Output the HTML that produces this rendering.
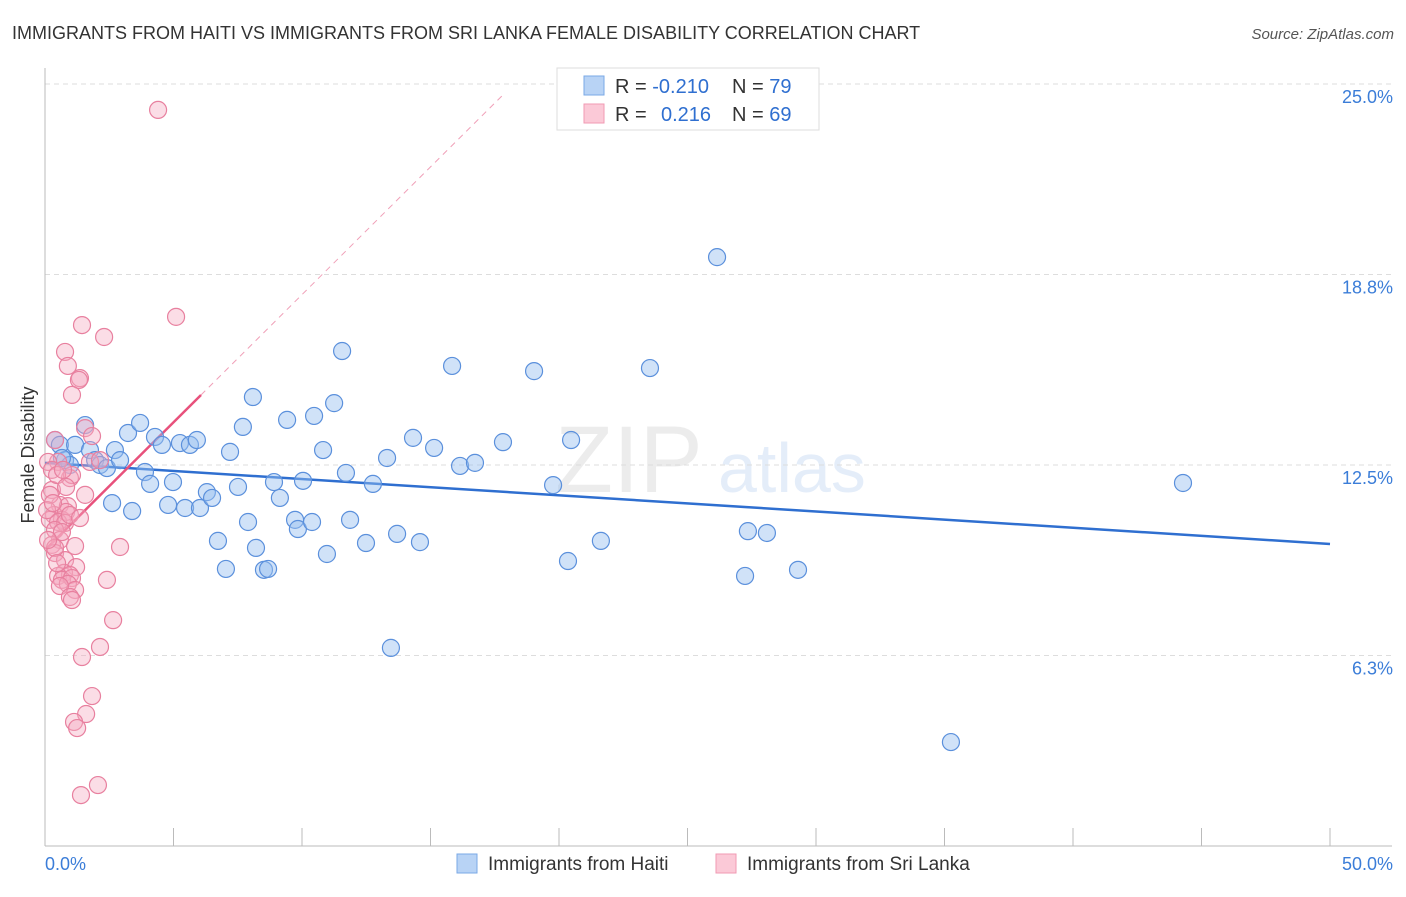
<!DOCTYPE html>
<html><head><meta charset="utf-8"><style>
body{margin:0;background:#fff;font-family:"Liberation Sans",sans-serif}
svg text{font-family:"Liberation Sans",sans-serif}
</style></head><body>
<svg id="c" width="1406" height="892">
<text x="12" y="39" font-size="18" fill="#333">IMMIGRANTS FROM HAITI VS IMMIGRANTS FROM SRI LANKA FEMALE DISABILITY CORRELATION CHART</text>
<text x="1394" y="39" font-size="15" fill="#555" font-style="italic" text-anchor="end">Source: ZipAtlas.com</text>
<g opacity="0.13">
<text x="555" y="492" font-size="95" font-family="Liberation Serif" fill="#777">ZIP</text>
<text x="718" y="492" font-size="70" fill="#3b7dd8">atlas</text></g>
<g id="grid"></g><g id="axes"></g><g id="trend"></g><g id="pts"></g>
<text transform="translate(34,455) rotate(-90)" font-size="18" fill="#333" text-anchor="middle">Female Disability</text>
<g>
<rect x="557" y="68" width="262" height="62" fill="#fff" stroke="#ddd"/>
<rect x="584" y="76" width="20" height="19" fill="#b8d3f5" stroke="#7aa8e6"/>
<rect x="584" y="104" width="20" height="19" fill="#fbc9d7" stroke="#f09ab3"/>
<text x="615" y="93" font-size="20" fill="#333">R = <tspan fill="#2f6fd0">-0.210</tspan><tspan x="732">N = </tspan><tspan fill="#2f6fd0">79</tspan></text>
<text x="615" y="121" font-size="20" fill="#333">R = <tspan x="661" fill="#2f6fd0">0.216</tspan><tspan x="732">N = </tspan><tspan fill="#2f6fd0">69</tspan></text>
</g>
<g>
<rect x="457" y="854" width="20" height="19" fill="#b8d3f5" stroke="#7aa8e6"/>
<text x="488" y="870" font-size="19" fill="#333">Immigrants from Haiti</text>
<rect x="716" y="854" width="20" height="19" fill="#fbc9d7" stroke="#f09ab3"/>
<text x="747" y="870" font-size="19" fill="#333">Immigrants from Sri Lanka</text>
</g>
</svg>
<script>
const haitiX=[0.39,0.58,0.78,1.17,0.97,1.56,1.75,1.95,2.14,2.41,2.72,2.92,2.61,3.23,3.39,3.70,3.89,4.09,4.28,4.55,4.79,4.98,5.25,5.45,5.64,5.91,6.03,6.30,6.50,6.73,7.04,7.20,7.51,7.70,7.90,8.09,8.21,8.52,8.68,8.91,9.14,9.42,9.73,9.84,10.04,10.39,10.47,10.82,10.97,11.25,11.56,11.71,11.87,12.49,12.76,13.31,13.46,13.70,14.32,14.59,15.14,15.84,16.15,16.73,17.82,19.03,19.77,20.35,20.47,21.63,23.54,26.15,27.24,27.35,28.09,29.30,35.25,44.28,0.66];
const haitiY=[13.32,13.16,12.66,13.16,12.50,13.81,12.99,12.66,12.50,12.40,12.99,12.66,11.25,13.55,10.99,13.88,12.27,11.88,13.42,13.16,11.19,11.94,13.22,11.09,13.16,13.32,11.09,11.61,11.42,10.01,9.09,12.93,11.78,13.75,10.63,14.73,9.78,9.06,9.09,11.94,11.42,13.98,10.70,10.40,11.98,10.63,14.11,12.99,9.58,14.53,16.24,12.24,10.70,9.94,11.88,12.73,6.50,10.24,13.39,9.97,13.06,15.75,12.47,12.57,13.25,15.58,11.84,9.35,13.32,10.01,15.68,19.32,8.86,10.33,10.27,9.06,3.41,11.91,12.73];
const lankaX=[4.40,1.44,5.10,2.30,0.78,0.89,1.36,1.32,1.05,0.39,1.56,1.83,0.51,1.75,2.14,0.97,1.05,0.27,1.56,0.58,0.89,0.35,0.66,0.82,0.19,0.51,0.78,0.97,0.39,0.58,0.27,1.17,2.92,0.39,0.78,1.21,0.74,0.97,0.51,0.66,1.05,2.41,0.89,1.17,0.58,0.97,2.65,2.14,1.44,1.83,1.60,1.13,1.25,2.06,1.40,0.12,0.19,0.27,0.47,0.70,0.82,0.08,0.39,1.36,0.66,0.47,1.05,0.12,0.31];
const lankaY=[24.15,17.09,17.36,16.70,16.21,15.75,15.35,15.29,14.80,13.32,13.71,13.45,12.60,12.60,12.66,12.07,12.17,11.68,11.52,11.19,11.15,10.86,10.70,10.96,10.70,10.63,10.60,10.86,10.37,10.04,9.88,9.84,9.81,9.61,9.38,9.15,8.96,8.89,8.86,8.73,8.79,8.73,8.60,8.40,8.53,8.17,7.41,6.53,6.20,4.92,4.33,4.07,3.87,2.00,1.67,12.60,11.52,12.34,12.17,12.34,11.78,11.02,9.78,10.76,10.30,9.28,8.07,10.04,11.25];
const yTicks=[25.0,18.8,12.5,6.3];
const yTickLabels=["25.0%","18.8%","12.5%","6.3%"];
const xTickValues=[0,5,10,15,20,25,30,35,40,45,50];
const haitiTrend=[12.57,9.91];      // y at x=0 and x=50
const lankaTrend=[9.71,0.838];      // intercept, slope
const lankaSolidEnd=6.07, lankaDashEnd=17.9;

const NS="http://www.w3.org/2000/svg";
const X=v=>45+v*25.7, Y=v=>846-v*30.48;
function mk(tag,attrs,parent){const e=document.createElementNS(NS,tag);for(const k in attrs)e.setAttribute(k,attrs[k]);document.getElementById(parent).appendChild(e);return e;}
yTicks.forEach((t,i)=>{
  const g=mk('line',{x1:45,x2:1392,y1:Y(t===25?25:t===18.8?18.75:t===12.5?12.5:6.25),y2:Y(t===25?25:t===18.8?18.75:t===12.5?12.5:6.25),stroke:'#ddd','stroke-dasharray':'5,4'},'grid');
  
  
  const yy=Y(t===25?25:t===18.8?18.75:t===12.5?12.5:6.25);
  const l=mk('text',{x:1393,y:yy+19,'font-size':18,fill:'#3b7dd8','text-anchor':'end'},'axes');
  l.textContent=yTickLabels[i];
  
  
});
let a=mk('line',{x1:45,x2:45,y1:68,y2:846,stroke:'#bbb'},'axes');


a=mk('line',{x1:45,x2:1392,y1:846,y2:846,stroke:'#bbb'},'axes');


xTickValues.forEach(v=>{
  const t=mk('line',{x1:X(v),x2:X(v),y1:828,y2:846,stroke:'#bbb'},'axes');
  
  
});
let xl=mk('text',{x:45,y:870,'font-size':18,fill:'#3b7dd8'},'axes');xl.textContent='0.0%';


xl=mk('text',{x:1393,y:870,'font-size':18,fill:'#3b7dd8','text-anchor':'end'},'axes');xl.textContent='50.0%';


haitiX.forEach((x,i)=>{
  const c=mk('circle',{cx:X(x),cy:Y(haitiY[i]),r:8.5,fill:'rgba(150,190,240,0.45)',stroke:'#5b90dc','stroke-width':1.2},'pts');
  
  
});
lankaX.forEach((x,i)=>{
  const c=mk('circle',{cx:X(x),cy:Y(lankaY[i]),r:8.5,fill:'rgba(245,170,192,0.4)',stroke:'#e8809f','stroke-width':1.2},'pts');
  
  
});
let tl=mk('line',{x1:X(0),y1:Y(haitiTrend[0]),x2:X(50),y2:Y(haitiTrend[1]),stroke:'#2f6fd0','stroke-width':2.5},'trend');


tl=mk('line',{x1:X(lankaSolidEnd),y1:Y(lankaTrend[0]+lankaTrend[1]*lankaSolidEnd),x2:X(lankaDashEnd),y2:Y(lankaTrend[0]+lankaTrend[1]*lankaDashEnd),stroke:'#f0a0b8','stroke-width':1,'stroke-dasharray':'6,5'},'trend');


tl=mk('line',{x1:X(0.08),y1:Y(lankaTrend[0]+lankaTrend[1]*0.08),x2:X(lankaSolidEnd),y2:Y(lankaTrend[0]+lankaTrend[1]*lankaSolidEnd),stroke:'#e8517c','stroke-width':2.5},'trend');


</script>
</body></html>
